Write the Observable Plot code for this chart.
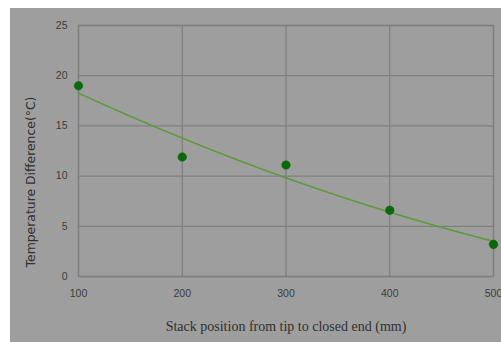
<!DOCTYPE html>
<html>
<head>
<meta charset="utf-8">
<script src="https://cdn.jsdelivr.net/npm/d3@7"></script>
<script src="https://cdn.jsdelivr.net/npm/@observablehq/plot@0.6"></script>
<style>
  body { margin: 0; background: #ffffff; }
  #chart { padding: 8px 0 0 10px; }
  #chart svg { background: #9e9e9e; color: #383838; }
</style>
</head>
<body>
<div id="chart"></div>
<script>
// Measured temperature difference along the stack
const positions = [100, 200, 300, 400, 500];
const tempDiff = [19.0, 11.9, 11.1, 6.6, 3.2];

// Axis ticks and titles
const xTicks = [100, 200, 300, 400, 500];
const yTicks = [0, 5, 10, 15, 20, 25];
const xTitle = "Stack position from tip to closed end (mm)";
const yTitle = "Temperature Difference(°C)";

const points = positions.map((x, i) => ({x, y: tempDiff[i]}));

// Second-order polynomial least-squares trendline through the measurements
function quadFit(xs, ys) {
  const mx = d3.mean(xs);
  const ts = xs.map(x => x - mx);
  const S = [0, 0, 0, 0, 0], T = [0, 0, 0];
  ts.forEach((t, i) => {
    for (let k = 0; k < 5; k++) S[k] += t ** k;
    for (let k = 0; k < 3; k++) T[k] += ys[i] * t ** k;
  });
  // Solve the 3x3 normal equations by Gaussian elimination
  const A = [
    [S[0], S[1], S[2], T[0]],
    [S[1], S[2], S[3], T[1]],
    [S[2], S[3], S[4], T[2]]
  ];
  for (let c = 0; c < 3; c++) {
    for (let r = c + 1; r < 3; r++) {
      const f = A[r][c] / A[c][c];
      for (let k = c; k < 4; k++) A[r][k] -= f * A[c][k];
    }
  }
  const coef = [0, 0, 0];
  for (let r = 2; r >= 0; r--) {
    let s = A[r][3];
    for (let k = r + 1; k < 3; k++) s -= A[r][k] * coef[k];
    coef[r] = s / A[r][r];
  }
  return x => coef[0] + coef[1] * (x - mx) + coef[2] * (x - mx) ** 2;
}

const fit = quadFit(positions, tempDiff);
const [x0, x1] = d3.extent(positions);
const trend = d3.range(x0, x1 + 0.001, (x1 - x0) / 80).map(x => ({x, y: fit(x)}));

const chart = Plot.plot({
  width: 491,
  height: 334,
  marginLeft: 68,
  marginRight: 8,
  marginTop: 17,
  marginBottom: 66,
  style: {fontFamily: "'Liberation Sans', Arial, sans-serif"},
  x: {domain: [100, 500]},
  y: {domain: [0, 25]},
  marks: [
    Plot.gridX(xTicks, {stroke: "#7f7f7f", strokeOpacity: 1, strokeWidth: 1.3}),
    Plot.gridY(yTicks, {stroke: "#7f7f7f", strokeOpacity: 1, strokeWidth: 1.3}),
    Plot.frame({stroke: "#7f7f7f", strokeWidth: 1.3}),
    Plot.axisX(xTicks, {tickSize: 0, tickPadding: 13, fontSize: 10.5, label: null, fill: "#3c3c3c"}),
    Plot.axisY(yTicks, {tickSize: 0, tickPadding: 11, fontSize: 10.5, label: null, fill: "#3c3c3c"}),
    Plot.line(trend, {x: "x", y: "y", stroke: "#5a9a38", strokeWidth: 1.6, strokeDasharray: "1,1.3"}),
    Plot.dot(points, {x: "x", y: "y", r: 4.3, fill: "#0b690b", stroke: "#0b690b", strokeWidth: 0.5}),
    Plot.text([xTitle], {frameAnchor: "bottom", dy: 54, fontSize: 14, fontFamily: "'Liberation Serif', 'Times New Roman', serif", fill: "#303030"}),
    Plot.text([yTitle], {frameAnchor: "left", textAnchor: "middle", rotate: -90, dx: -47, dy: 31, fontSize: 12.4, fontFamily: "'DejaVu Sans', sans-serif", fill: "#303030"})
  ]
});

document.getElementById("chart").append(chart);
</script>
</body>
</html>
